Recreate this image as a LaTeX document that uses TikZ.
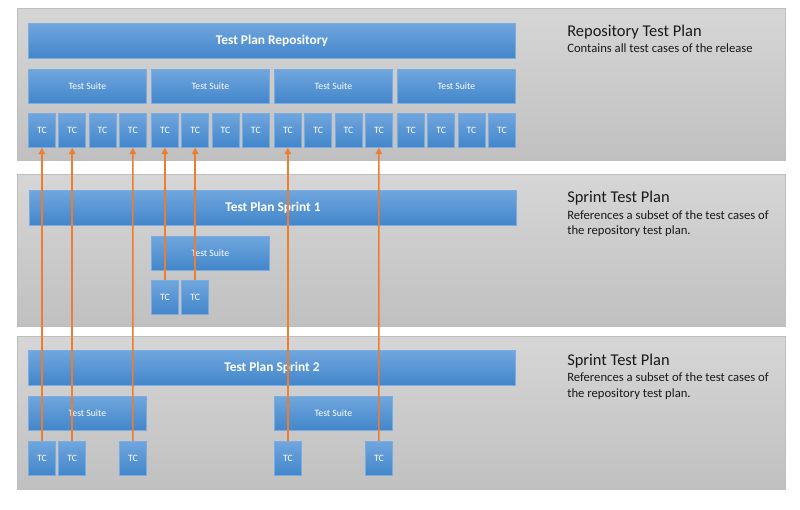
\documentclass[tikz,border=0pt]{standalone}
\usepackage{fontspec}
\setmainfont{Carlito}
\usepackage{tikz}
\usetikzlibrary{arrows.meta, positioning}
\definecolor{panelborder}{RGB}{190,190,190}
\definecolor{paneltop}{RGB}{214,214,214}
\definecolor{panelbottom}{RGB}{192,192,192}
\definecolor{boxtop}{RGB}{112,166,221}
\definecolor{boxbottom}{RGB}{66,134,203}
\definecolor{boxborder}{RGB}{122,172,226}
\definecolor{reforange}{RGB}{237,125,49}
\definecolor{notetext}{RGB}{25,25,25}
\tikzset{
  panel/.style={rectangle, draw=panelborder, top color=paneltop, bottom color=panelbottom,
    minimum width=19.2cm, minimum height=3.8cm, anchor=north west, inner sep=0pt, line width=0.8pt},
  planbar/.style={rectangle, draw=boxborder, top color=boxtop, bottom color=boxbottom,
    text=white, font=\fontsize{9.5}{11}\selectfont\bfseries, minimum width=12.175cm,
    minimum height=0.875cm, anchor=north west, inner sep=0pt, line width=0.5pt},
  suite/.style={planbar, font=\fontsize{6.9}{8}\selectfont, minimum width=2.95cm, minimum height=0.85cm},
  tcase/.style={planbar, font=\fontsize{6.9}{8}\selectfont, minimum width=0.675cm, minimum height=0.85cm},
  heading/.style={anchor=base west, inner sep=0pt, text=notetext, font=\fontsize{11.7}{13}\selectfont},
  note/.style={anchor=base west, inner sep=0pt, text=notetext, align=left, font=\fontsize{9}{11.3}\selectfont},
  refarrow/.style={-{Triangle[width=4.5pt,length=4.5pt]}, color=reforange, line width=1.1pt}
}

\begin{document}
\begin{tikzpicture}[x=0.025cm, y=-0.025cm]
  \useasboundingbox (0,0) rectangle (800,510);

  % --- Repository test plan ---
  \node[panel] (repo) at (17,8) {};
  \node[planbar] (repobar) at (28,23) {Test Plan Repository};
  \foreach \g in {1,...,4} {
    \node[suite] (rsuite\g) at ({28+123*(\g-1)},69) {Test Suite};
    \foreach \j in {1,...,4}
      \node[tcase] (rtc\g\j) at ({28+123*(\g-1)+30.33*(\j-1)},113) {TC};
  }
  \node[heading] (repohead) at (567,37) {Repository Test Plan};
  \node[note] (reponote) at (567,53) {Contains all test cases of the release};

  % --- Sprint 1 ---
  \node[panel] (sprint1) at (17,174) {};
  \node[planbar] (s1bar) at (29,190) {Test Plan Sprint 1};
  \node[suite] (s1suite2) at (151,236) {Test Suite};
  \node[tcase] (s1tc21) at (151,280) {TC};
  \node[tcase] (s1tc22) at (181.33,280) {TC};
  \node[heading] (s1head) at (567,203) {Sprint Test Plan};
  \node[note] (s1note) at (567,235) {References a subset of the test cases of\\the repository test plan.};

  % --- Sprint 2 ---
  \node[panel, minimum height=3.825cm] (sprint2) at (17,336) {};
  \node[planbar] (s2bar) at (28,350) {Test Plan Sprint 2};
  \node[suite] (s2suite1) at (28,396) {Test Suite};
  \node[suite] (s2suite3) at (274,396) {Test Suite};
  \node[tcase] (s2tc11) at (28,441) {TC};
  \node[tcase] (s2tc12) at (58.33,441) {TC};
  \node[tcase] (s2tc14) at (119,441) {TC};
  \node[tcase] (s2tc31) at (274,441) {TC};
  \node[tcase] (s2tc34) at (365,441) {TC};
  \node[heading] (s2head) at (567,365) {Sprint Test Plan};
  \node[note] (s2note) at (567,397) {References a subset of the test cases of\\the repository test plan.};

  % references into the repository
  \foreach \t in {21,22}
    \draw[refarrow] (s1tc\t.north) -- (rtc\t.south);
  \foreach \t in {11,12,14,31,34}
    \draw[refarrow] (s2tc\t.north) -- (rtc\t.south);
\end{tikzpicture}
\end{document}
